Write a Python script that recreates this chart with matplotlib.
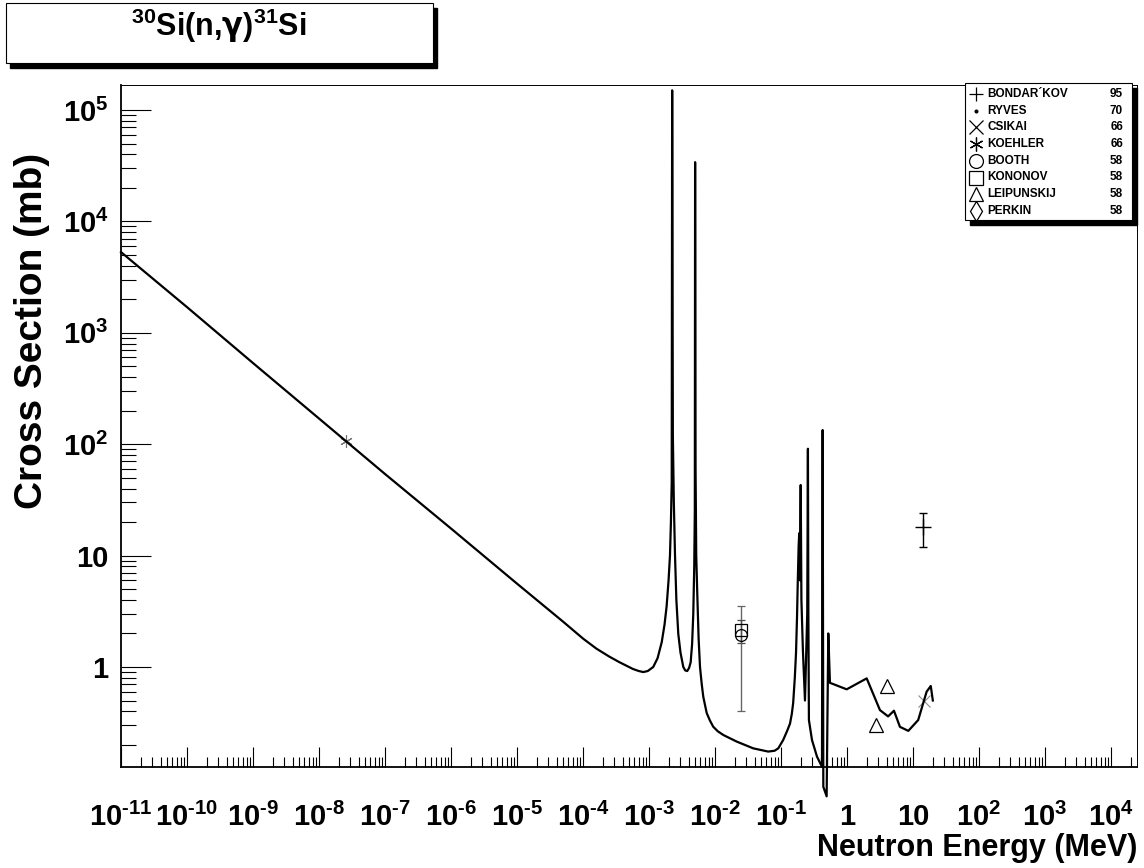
import matplotlib
matplotlib.use('Agg')
import matplotlib.pyplot as plt
from matplotlib.patches import Rectangle
from matplotlib.ticker import FixedLocator, FuncFormatter, NullFormatter
import numpy as np

plt.rcParams['font.family'] = ['Liberation Sans', 'DejaVu Sans']
plt.rcParams['font.weight'] = 'bold'
plt.rcParams['axes.unicode_minus'] = False
plt.rcParams['mathtext.fontset'] = 'custom'
plt.rcParams['mathtext.rm'] = 'Liberation Sans:bold'
plt.rcParams['mathtext.bf'] = 'Liberation Sans:bold'
plt.rcParams['mathtext.sf'] = 'DejaVu Sans:bold'
plt.rcParams['mathtext.default'] = 'bf'

# evaluated capture cross section, energy in MeV, sigma in mb
curve_e = [1e-11, 1e-10, 1e-9, 1e-8, 1e-7, 1e-6, 1e-5, 5e-5, 1e-4, 1.6e-4, 2.5e-4,
           3.5e-4, 4.5e-4, 5.7e-4, 7e-4, 8.2e-4, 9.6e-4, 1.16e-3, 1.35e-3, 1.56e-3,
           1.72e-3, 1.85e-3, 1.98e-3, 2.08e-3, 2.15e-3, 2.21e-3, 2.245e-3, 2.3e-3,
           2.38e-3, 2.48e-3, 2.6e-3, 2.78e-3, 3.0e-3, 3.31e-3, 3.55e-3, 3.8e-3,
           4.05e-3, 4.28e-3, 4.5e-3, 4.69e-3, 4.85e-3, 4.95e-3, 5.0e-3, 5.08e-3,
           5.2e-3, 5.4e-3, 5.65e-3, 5.93e-3, 6.3e-3, 6.65e-3, 7.49e-3, 8.4e-3,
           9.4e-3, 1.1e-2, 1.34e-2, 2.13e-2, 3.8e-2, 6.4e-2, 8e-2, 9.1e-2, 0.108,
           0.125, 0.137, 0.146, 0.153, 0.162, 0.169, 0.175, 0.179, 0.185, 0.189,
           0.193, 0.199, 0.204, 0.215, 0.231, 0.25, 0.256, 0.26, 0.265, 0.295,
           0.351, 0.418, 0.428, 0.438, 0.492, 0.521, 0.552, 0.59, 0.99, 1.99,
           3.16, 4.2, 5.15, 6.35, 8.5, 12.0, 16.1, 18.6, 20.0]
curve_s = [5300, 1700, 535, 170, 54, 17.5, 5.6, 2.55, 1.8, 1.46, 1.24,
           1.11, 1.03, 0.96, 0.92, 0.90, 0.92, 1.0, 1.2, 1.67,
           2.4, 3.5, 6.0, 10, 20, 45, 1.5e5, 120,
           30, 10, 4.0, 1.98, 1.35, 1.0, 0.93, 0.92,
           0.98, 1.1, 1.6, 3.0, 8.0, 25, 3.4e4, 60,
           10, 4.4, 1.8, 1.0, 0.7, 0.54, 0.386, 0.33,
           0.291, 0.265, 0.245, 0.214, 0.186, 0.174, 0.177, 0.186, 0.221,
           0.27, 0.31, 0.38, 0.475, 0.8, 1.34, 2.8, 5.3, 12, 15.9,
           6, 43, 4, 1.4, 0.5, 3, 91, 3, 0.334, 0.221,
           0.157, 0.127, 134, 0.084, 0.069, 2.0, 0.72, 0.71, 0.63, 0.79,
           0.41, 0.36, 0.405, 0.29, 0.267, 0.334, 0.60, 0.675, 0.50]

# measurements
bondarkov_e, bondarkov_s, bondarkov_err = [14.3], [18.0], [6.0]
ryves_e, ryves_s = [2.53e-8], [107]
csikai_e, csikai_s = [14.7], [0.49]
koehler_e, koehler_s = [2.53e-8], [107]
booth_e, booth_s, booth_err = [0.0248], [1.95], [1.55]
kononov_e, kononov_s, kononov_err = [0.0248], [2.15], [0.5]
leipunskij_e, leipunskij_s = [2.75, 4.1], [0.30, 0.68]

legend_names = ['BONDAR\u00b4KOV', 'RYVES', 'CSIKAI', 'KOEHLER', 'BOOTH',
                'KONONOV', 'LEIPUNSKIJ', 'PERKIN']
legend_years = ['95', '70', '66', '66', '58', '58', '58', '58']
legend_markers = ['+', '.', 'x', (6, 2, 0), 'o', 's', '^', 'd']

W, H = 1144, 868
fig = plt.figure(figsize=(W / 100, H / 100), dpi=100)
ax = fig.add_axes([121 / W, 1 - 767 / H, 1016 / W, 682 / H])
ax.set_xscale('log')
ax.set_yscale('log')
ax.set_xlim(1e-11, 2.48e4)
ax.set_ylim(0.1265, 1.676e5)


def pow_label(v, pos):
    k = int(round(np.log10(v)))
    if k == 0:
        return '1'
    if k == 1:
        return '10'
    # plain hyphen in the exponent, mathtext would turn '-' into a wide minus
    exp = str(k).replace('-', '\u2010')
    return r'$10^{%s}$' % exp


ax.xaxis.set_major_locator(FixedLocator(10.0 ** np.arange(-11, 5)))
ax.xaxis.set_minor_locator(FixedLocator([m * 10.0 ** k for k in range(-11, 5) for m in range(2, 10)]))
ax.yaxis.set_major_locator(FixedLocator(10.0 ** np.arange(0, 6)))
ax.yaxis.set_minor_locator(FixedLocator([m * 10.0 ** k for k in range(-1, 6) for m in range(2, 10)]))
ax.xaxis.set_major_formatter(FuncFormatter(pow_label))
ax.yaxis.set_major_formatter(FuncFormatter(pow_label))
ax.xaxis.set_minor_formatter(NullFormatter())
ax.yaxis.set_minor_formatter(NullFormatter())

ax.tick_params(axis='x', which='major', direction='in', length=14.4, width=0.8, labelsize=21, pad=26)
ax.tick_params(axis='x', which='minor', direction='in', length=7.2, width=0.8)
ax.tick_params(axis='y', which='major', direction='in', length=21.6, width=0.8, labelsize=21, pad=9)
ax.tick_params(axis='y', which='minor', direction='in', length=10.8, width=0.8)
for side in ['left', 'bottom']:
    ax.spines[side].set_linewidth(1.3)
for side in ['top', 'right']:
    ax.spines[side].set_linewidth(0.7)

# curve runs past the frame where it dips
ax.plot(curve_e, curve_s, color='black', lw=1.6, clip_on=False, zorder=3)

ax.plot(koehler_e, koehler_s, ls='none', marker=(6, 2, 0), ms=9, mec='0.45', mew=0.8, zorder=2)
ax.plot(ryves_e, ryves_s, ls='none', marker='.', ms=3, color='0.45', zorder=2)
ax.plot(csikai_e, csikai_s, ls='none', marker='x', ms=8, mec='0.55', mew=0.8, zorder=2)
ax.errorbar(booth_e, booth_s, yerr=booth_err, fmt='o', ms=8.5, mfc='none', mec='black',
            mew=0.9, ecolor='0.4', elinewidth=1, capsize=3, zorder=4)
ax.errorbar(kononov_e, kononov_s, yerr=kononov_err, fmt='s', ms=8.5, mfc='none', mec='black',
            mew=0.9, ecolor='0.3', elinewidth=1, capsize=3, zorder=4)
ax.plot(leipunskij_e, leipunskij_s, ls='none', marker='^', ms=10, mfc='none', mec='black',
        mew=0.9, zorder=4)
ax.errorbar(bondarkov_e, bondarkov_s, yerr=bondarkov_err, fmt='+', ms=12, color='black',
            mew=1, elinewidth=1, capsize=3, zorder=4)

# overlay in pixel units for the title box, legend and axis titles
lax = fig.add_axes([0, 0, 1, 1], zorder=10)
lax.set_xlim(0, W)
lax.set_ylim(H, 0)
lax.axis('off')
lax.patch.set_alpha(0)

lax.add_patch(Rectangle((10, 8), 427, 60, color='black'))
lax.add_patch(Rectangle((6, 3), 427, 60, fc='white', ec='black', lw=0.8))
lax.text(219, 36, r'$^{30}$Si(n,$\mathsf{\gamma}$)$^{31}$Si', ha='center', va='baseline',
         fontsize=22, fontweight='bold')

lax.add_patch(Rectangle((970, 88), 167, 137, color='black'))
lax.add_patch(Rectangle((965, 83), 167, 137, fc='white', ec='black', lw=0.8))
for i, (name, yr, mk) in enumerate(zip(legend_names, legend_years, legend_markers)):
    y = 94 + i * 16.7
    ms = 4 if mk == '.' else 10
    lax.plot([975.5], [y], ls='none', marker=mk, ms=ms, mfc='none' if mk != '.' else 'black',
             mec='black', mew=0.9)
    lax.text(987, y, name, ha='left', va='center', fontsize=8.5, fontweight='bold')
    lax.text(1123, y, yr, ha='right', va='center', fontsize=8.5, fontweight='bold')

lax.text(1137, 848, 'Neutron Energy (MeV)', ha='right', va='center', fontsize=22,
         fontweight='bold')
lax.text(32, 331, 'Cross Section (mb)', ha='center', va='center', rotation=90, fontsize=28,
         fontweight='bold')

fig.savefig('out.png', dpi=100)
